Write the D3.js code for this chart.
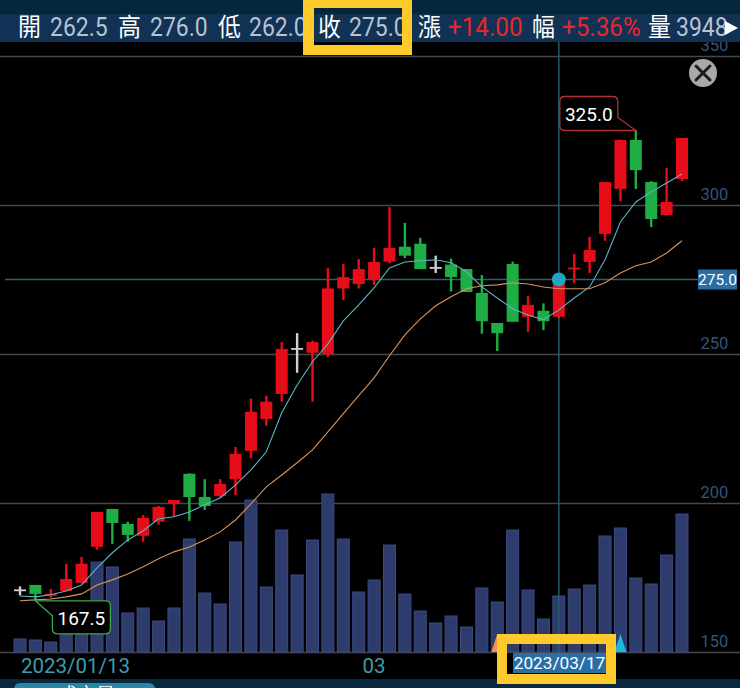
<!DOCTYPE html>
<html><head><meta charset="utf-8">
<script src="https://cdn.jsdelivr.net/npm/d3@7/dist/d3.min.js"></script>
<style>html,body{margin:0;padding:0;background:#000;overflow:hidden}svg{display:block}text{font-family:Roboto,"Noto Sans CJK TC",sans-serif}</style>
</head><body><div id="c"></div>
<script>
const opens  =[171,172.5,169,170.5,173.2,185.3,198,193,189,193.7,199.7,209.8,202,202.4,208,217.5,228.2,236.6,252,250.4,250,272,273.5,275.2,281,286,287,279.2,280,278.5,270.5,260.4,280.2,262.5,264.5,262.5,278.5,280.9,290.3,305.4,321.8,307.7,296.6,308.7];
const highs  =[172,172.5,171.2,179.6,181.9,197,198,193.7,196,199,201,210,208,208,218.8,235,236,254,257,254.5,278.9,280.2,281.9,285.6,299.3,294,289,283,282,278.5,276.5,260.4,281,269.5,267,276,283.6,289.3,307.7,322,325,308,312.4,322.5];
const lows   =[169,167.5,168.2,170.5,173,184.3,186.3,187,187,192.7,195.3,194,197.7,201.7,202.7,215,225.9,234,243.7,234,249,268.1,272,273.2,280.5,282.2,278.5,277.2,271,270.8,256.8,251,260.8,257.4,258,262,273.8,277.2,288,301.3,305.4,292.6,296.5,308];
const closes =[171,169.5,169.5,174.5,179.6,197,193.3,189.3,195,198.7,201,202,199,206.4,216.5,230.6,234,251.7,252,254,272,275.8,278.5,280.9,285.6,283,278.5,279.2,275.8,270.8,261,257,260.8,266.5,261,275,279,284.9,307.7,321.8,311.7,295.3,301,322.5];
const volumes=[917,846,705,2256,2538,6345,5993,2750,3102,2186,3102,7967,4160,3384,7755,10716,4583,8601,5429,7896,11139,7967,4230,5076,7544,4089,2891,2045,2538,1763,4512,3525,8601,4371,2327,3948,4442,4724,8178,8742,5217,4794,6839,9729];
const maShort=[168.8,168.5,169.2,170.5,172.5,178.2,183.3,187.6,190.7,194.7,195.4,197,199.4,201.7,206.1,211.1,217.2,230.3,239.6,247.4,253.4,261.1,266.5,272.2,278.9,280.9,281.3,281.6,280.6,277.6,272.5,268.8,265.2,263.1,261.5,264.8,268.8,272.5,281.6,294.3,301,304.4,307.4,310.4];
const maLong =[167.2,167.5,167.8,168.5,169.5,172.5,174.2,176.2,178.6,181.3,183.6,185.2,187.6,190.3,194.3,199.7,205.4,209.4,213.5,217.8,223.9,230,236,242,249.4,256.4,261.8,266.2,269.2,271.9,272.9,273.2,273.9,273.5,272.5,271.9,271.9,271.9,273.9,277.2,279.6,280.9,283.9,288];
const priceTicks=[350,300,250,200,150];
const selectedIndex=35, monthIndex=23, firstLabel="2023/01/13", monthLabel="03", selectedLabel="2023/03/17";
const headerItems=[["開",18,"#fff"],["262.5",50,"#b8c4cf"],["高",118,"#fff"],["276.0",150,"#b8c4cf"],["低",218,"#fff"],["262.0",249,"#b8c4cf"],["收",318,"#fff"],["275.0",349,"#b8c4cf"],["漲",418,"#fff"],["+14.00",448,"#e8272c"],["幅",532,"#fff"],["+5.36%",562,"#e8272c"],["量",648,"#fff"],["3948",676,"#b8c4cf"]];

const W=740,H=688;
const svg=d3.select("#c").append("svg").attr("width",W).attr("height",H);
const x=d3.scaleLinear().domain([0,43]).range([20,682]);
const y=d3.scaleLinear().domain([150,350]).range([652,56]);
const v=d3.scaleLinear().domain([0,10000]).range([652,510.2]);

svg.append("rect").attr("width",W).attr("height",H).attr("fill","#000");

// grid + price labels
const ax=svg.append("g").call(d3.axisRight(y).tickValues(priceTicks).tickSize(W).tickFormat(d3.format("d")));
ax.select(".domain").remove();
ax.selectAll("line").attr("stroke","#474747").attr("stroke-width",1.6);
ax.selectAll("text").attr("x",714.5).attr("y",-6).attr("dy",0).attr("text-anchor","middle").attr("fill","#33547c").attr("font-size",16.5);

// volume
svg.append("g").selectAll("rect").data(volumes).join("rect")
 .attr("x",(d,i)=>x(i)-6).attr("width",12).attr("y",d=>v(d)).attr("height",d=>v(0)-v(d))
 .attr("fill","#2d3b6d").attr("stroke","#3c4b80").attr("stroke-width",1);

// crossover triangles
const tri=(i,c)=>svg.append("path").attr("d",`M${x(i)-6},652L${x(i)},634L${x(i)+6},652Z`).attr("fill",c);
tri(31,"#ef9347"); tri(39,"#19bbd8");

// crosshair
svg.append("line").attr("x1",x(selectedIndex)).attr("x2",x(selectedIndex)).attr("y1",42).attr("y2",652).attr("stroke","#2a6070").attr("stroke-width",1.4);
svg.append("line").attr("x1",5).attr("x2",698).attr("y1",y(closes[selectedIndex])).attr("y2",y(closes[selectedIndex])).attr("stroke","#2a6070").attr("stroke-width",1.4);

// candles
const col=i=>Math.abs(opens[i]-closes[i])<0.01?"#d0d0d0":closes[i]>opens[i]?"#e60d19":"#1fae46";
const g=svg.append("g");
d3.range(opens.length).forEach(i=>{
  g.append("line").attr("x1",x(i)).attr("x2",x(i)).attr("y1",y(highs[i])).attr("y2",y(lows[i])).attr("stroke",col(i)).attr("stroke-width",2.4);
  const t=y(Math.max(opens[i],closes[i])),b=y(Math.min(opens[i],closes[i]));
  g.append("rect").attr("x",x(i)-6).attr("width",12).attr("y",t).attr("height",Math.max(b-t,1.8)).attr("fill",col(i));
});

// moving averages
const line=d3.line().x((d,i)=>x(i)).y(d=>y(d)).curve(d3.curveLinear);
svg.append("path").attr("d",line(maLong)).attr("fill","none").attr("stroke","#d8925e").attr("stroke-width",1.1);
svg.append("path").attr("d",line(maShort)).attr("fill","none").attr("stroke","#5db4c8").attr("stroke-width",1.1);

// selected dot + price label
svg.append("circle").attr("cx",x(selectedIndex)).attr("cy",y(closes[selectedIndex])).attr("r",7).attr("fill","#1ea6c4");
svg.append("rect").attr("x",698).attr("y",y(closes[selectedIndex])-10).attr("width",39).attr("height",20).attr("fill","#2a6ea6");
svg.append("text").attr("x",717.5).attr("y",y(closes[selectedIndex])+5.5).attr("text-anchor","middle").attr("fill","#fff").attr("font-size",15.5).text(closes[selectedIndex].toFixed(1));

// high callout
const hiI=highs.indexOf(d3.max(highs)), ax1=x(hiI), ay1=y(highs[hiI]);
svg.append("path").attr("d",`M${ax1},${ay1}L${ax1-18},${ay1-13}V${ay1-29}q0,-5 -5,-5H${ax1-71}q-5,0 -5,5V${ay1-5}q0,5 5,5Z`)
 .attr("fill","#000").attr("stroke","#b03434").attr("stroke-width",1.3);
svg.append("text").attr("x",ax1-47).attr("y",ay1-10).attr("text-anchor","middle").attr("fill","#fff").attr("font-size",19).text(highs[hiI].toFixed(1));
// low callout
const loI=lows.indexOf(d3.min(lows)), ax2=x(loI), ay2=y(lows[loI]);
svg.append("path").attr("d",`M${ax2},${ay2+1}H${ax2+70}q5,0 5,5V${ay2+29}q0,5 -5,5H${ax2+22}q-5,0 -5,-5V${ay2+16}Z`)
 .attr("fill","#000").attr("stroke","#3da64a").attr("stroke-width",1.3);
svg.append("text").attr("x",ax2+46).attr("y",ay2+25).attr("text-anchor","middle").attr("fill","#fff").attr("font-size",19).text(lows[loI].toFixed(1));

// close button
svg.append("circle").attr("cx",703).attr("cy",73).attr("r",14).attr("fill","#a9a9a9");
svg.append("path").attr("d","M696,66L710,80M710,66L696,80").attr("stroke","#1c1c1c").attr("stroke-width",3).attr("stroke-linecap","round");

// x labels
svg.append("text").attr("x",x(0)+1).attr("y",673).attr("fill","#3a9db0").attr("font-size",20.5).text(firstLabel);
svg.append("text").attr("x",x(monthIndex)).attr("y",673).attr("text-anchor","middle").attr("fill","#3a9db0").attr("font-size",20.5).text(monthLabel);

// header
svg.append("rect").attr("width",W).attr("height",14).attr("fill","#06263b");
svg.append("rect").attr("y",14).attr("width",W).attr("height",28).attr("fill","#113254");
svg.selectAll(".h").data(headerItems).join("text").attr("class","h")
 .attr("transform",d=>`translate(${d[1]},36) scale(${d[0][0]==="+"?0.95:0.9},1)`).attr("fill",d=>d[2]).attr("font-size",25.5).text(d=>d[0]);
svg.append("path").attr("d","M725,21L738,28L725,35Z").attr("fill","#fff");

// bottom strip
svg.append("rect").attr("y",679).attr("width",W).attr("height",9).attr("fill","#07283f");
svg.append("rect").attr("x",14).attr("y",683).attr("width",141).attr("height",20).attr("rx",6).attr("fill","#2a86a8");
svg.append("text").attr("x",58).attr("y",702).attr("fill","#fff").attr("font-size",19).text("成交量");

// date highlight
svg.append("rect").attr("x",507).attr("y",653).attr("width",99).attr("height",26).attr("fill","#000");
svg.append("rect").attr("x",513).attr("y",653).attr("width",93).attr("height",20).attr("fill","#2a6ea6");
svg.append("text").attr("x",559.5).attr("y",669).attr("text-anchor","middle").attr("fill","#fff").attr("font-size",17.2).text(selectedLabel);

// yellow frames
const frame=(a,b,c,d,e,f,g2,h)=>svg.append("path").attr("fill-rule","evenodd").attr("fill","#fdc92b")
 .attr("d",`M${a},${b}H${c}V${d}H${a}ZM${e},${f}H${g2}V${h}H${e}Z`);
frame(303,0,412,55,314,8,402,45);
frame(497,634,616,684,507,644,606,674);
</script></body></html>
